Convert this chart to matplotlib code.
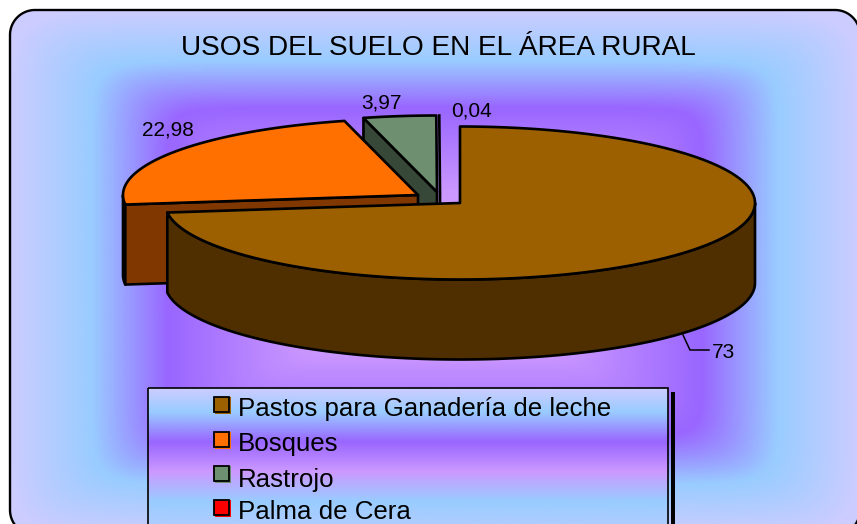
import numpy as np
import matplotlib
matplotlib.use('Agg')
import matplotlib.pyplot as plt
from matplotlib.colors import LinearSegmentedColormap
from matplotlib.patches import Polygon, Rectangle

plt.rcParams['font.family'] = ['Liberation Sans', 'DejaVu Sans']

title = 'USOS DEL SUELO EN EL ÁREA RURAL'
categories = ['Pastos para Ganadería de leche', 'Bosques', 'Rastrojo', 'Palma de Cera']
values = [73, 22.98, 3.97, 0.04]
labels = ['73', '22,98', '3,97', '0,04']
top_colors = ['#9c6000', '#ff7000', '#6f9070', '#ff0000']
wall_colors = ['#4f2e00', '#803800', '#384838', '#800000']

# exploded pie geometry, in pixels
apex = [(460, 203), (418, 195), (437, 192), (440, 192)]
rx, ry, depth = 295, 76.5, 80
edge = 1.9

fig = plt.figure(figsize=(8.57, 5.24), dpi=100)
ax = fig.add_axes([0, 0, 1, 1])
ax.set_xlim(0, 857)
ax.set_ylim(524, 0)

# background, rectangular gradient with soft corners
bg = LinearSegmentedColormap.from_list('bg', [(0, '#cc99ff'), (0.3, '#cc99ff'), (0.63, '#9966ff'),
                                              (0.81, '#99ccff'), (1, '#ccccff')])
L, T, R, B = 10, 10, 860, 535
xx, yy = np.meshgrid(np.linspace(L, R, 430), np.linspace(T, B, 270))
u = np.abs(xx - (L + R) / 2) / ((R - L) / 2)
v = np.abs(yy - (T + B) / 2) / ((B - T) / 2)
t = (u ** 14 + v ** 14) ** (1 / 14)
im = ax.imshow(t, cmap=bg, vmin=0, vmax=1, extent=[L, R, B, T], aspect='auto', zorder=1)

# rounded frame
rad = 25
corners = [(R - rad, T + rad, -90, 0), (R - rad, B - rad, 0, 90), (L + rad, B - rad, 90, 180), (L + rad, T + rad, 180, 270)]
fx, fy = [], []
for ccx, ccy, a0, a1 in corners:
    a = np.radians(np.linspace(a0, a1, 30))
    fx += list(ccx + rad * np.cos(a))
    fy += list(ccy + rad * np.sin(a))
frame = Polygon(np.column_stack([fx, fy]), closed=True, fc='none', ec='black', lw=1.7, zorder=2)
ax.add_patch(frame)
im.set_clip_path(frame)


def arc(i, a0, a1):
    a = np.radians(np.linspace(a0, a1, 200))
    return apex[i][0] + rx * np.cos(a), apex[i][1] - ry * np.sin(a)


def poly(pts, fc, z):
    ax.add_patch(Polygon(pts, closed=True, fc=fc, ec='black', lw=edge, joinstyle='round', zorder=z))


# slice angles, clockwise from the top
start = 90 - np.cumsum([0] + values[:-1]) / sum(values) * 360
end = 90 - np.cumsum(values) / sum(values) * 360

# back slices first, main slice in front
for i, z in [(3, 3), (2, 4), (1, 5), (0, 6)]:
    cx, cy = apex[i]
    x, y = arc(i, start[i], end[i])
    if i == 1:
        # cut face and short outer wall on the left
        x2, y2 = arc(i, start[i], start[i] - 7)
        poly(list(zip(x2, y2)) + list(zip(x2[::-1], y2[::-1] + depth)), 'black', z)
        poly([(x[0], y[0]), (cx, cy), (cx, cy + depth), (x[0], y[0] + depth)], wall_colors[i], z)
    if i == 2:
        poly([(x[0], y[0]), (cx, cy), (cx, cy + depth), (x[0], y[0] + depth)], wall_colors[i], z)
    if i == 0:
        # outer wall on the front half
        x2, y2 = arc(i, end[i], 0)
        poly(list(zip(x2, y2)) + list(zip(x2[::-1], y2[::-1] + depth)), wall_colors[i], z)
    if i == 3:
        ax.plot([x[0], cx, cx], [y[0], cy, cy + 11], color='black', lw=edge, zorder=z)
        continue
    poly([(cx, cy)] + list(zip(x, y)), top_colors[i], z + 0.5)

ax.plot([683, 690, 709], [335, 350, 350], color='black', lw=1.1, zorder=8)

ax.text(438.5, 55, title, fontsize=20.2, ha='center', va='baseline', color='black', zorder=9)
label_pos = [(724, 358), (168, 135), (382, 108.5), (471.5, 116.7)]
for s, (lx, ly) in zip(labels, label_pos):
    ax.text(lx, ly, s, fontsize=15, ha='center', va='baseline', color='black', zorder=9)

# legend
ax.add_patch(Rectangle((671, 392), 4, 140, fc='black', ec='none', zorder=10))
lg = LinearSegmentedColormap.from_list('lg', [(0, '#ccccff'), (0.14, '#99ccff'), (0.32, '#9966ff'),
                                              (0.5, '#cc99ff'), (0.68, '#99ccff'), (1, '#ccccff')])
ax.imshow(np.linspace(0, 1, 200).reshape(-1, 1), cmap=lg, extent=[148, 668, 555, 388], aspect='auto', zorder=11)
ax.add_patch(Rectangle((148, 388), 520, 170, fc='none', ec='black', lw=1.2, zorder=12))
rows = [405, 440, 474, 508]
text_rows = [416, 450.5, 487, 519]
for cat, col, ky, ty in zip(categories, top_colors, rows, text_rows):
    ax.add_patch(Rectangle((215, ky - 8), 16, 17, fc=col, ec='none', zorder=12))
    ax.add_patch(Rectangle((214.5, ky - 8.5), 14.5, 15.5, fc=col, ec='black', lw=1.3, zorder=13))
    ax.text(238, ty, cat, fontsize=18.65, ha='left', va='baseline', color='black', zorder=14)

ax.set_xlim(0, 857)
ax.set_ylim(524, 0)
ax.axis('off')
fig.savefig('out.png', dpi=100, facecolor='white')
